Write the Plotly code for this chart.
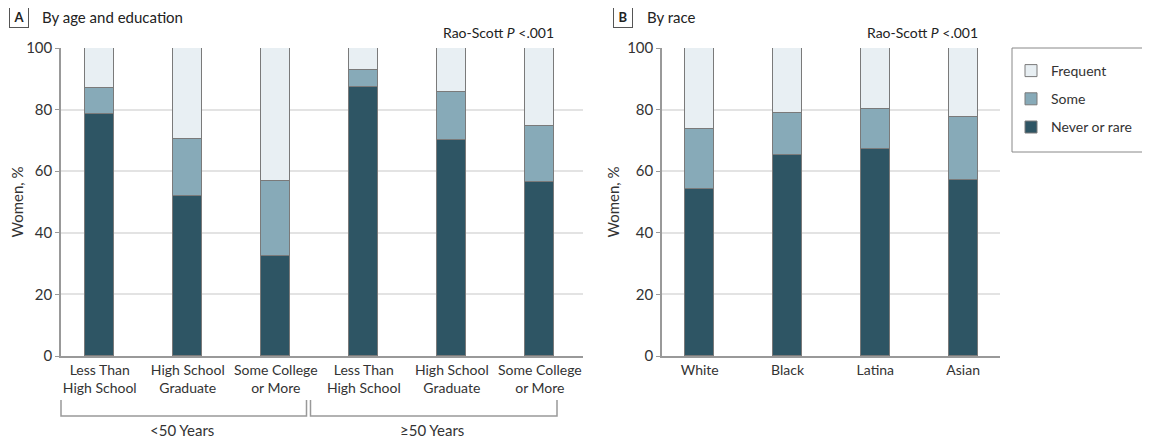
import plotly.graph_objects as go

# ---- data ----
education_labels = ["Less Than<br>High School", "High School<br>Graduate", "Some College<br>or More",
                    "Less Than<br>High School", "High School<br>Graduate", "Some College<br>or More"]
age_groups = ["<50 Years", "≥50 Years"]
never_A = [78.6, 51.9, 32.4, 87.3, 70.1, 56.4]
some_A = [8.4, 18.7, 24.5, 5.5, 15.5, 18.3]
frequent_A = [13.0, 29.4, 43.1, 7.2, 14.4, 25.3]

race_labels = ["White", "Black", "Latina", "Asian"]
never_B = [54.3, 65.3, 67.2, 57.2]
some_B = [19.5, 13.6, 13.0, 20.4]
frequent_B = [26.2, 21.1, 19.8, 22.4]

series_names = ["Never or rare", "Some", "Frequent"]
legend_ranks = [3, 2, 1]
colors = ["#2e5564", "#87aab8", "#e8eff3"]

# page has an 8px body margin, so the figure is offset by 8px
OFF = 8
W, H = 1150 - OFF, 443 - OFF
FONT = "Lato"
TXT = "#333333"

fig = go.Figure()
xa = list(range(len(education_labels)))
xb = list(range(len(race_labels)))
for name, rank, vals, col in zip(series_names, legend_ranks, [never_A, some_A, frequent_A], colors):
    fig.add_trace(go.Bar(x=xa, y=vals, name=name, legendgroup=name, legendrank=rank,
                         marker=dict(color=col, line=dict(color="#7a7a7a", width=1)),
                         width=0.33, xaxis="x", yaxis="y", showlegend=True))
for name, rank, vals, col in zip(series_names, legend_ranks, [never_B, some_B, frequent_B], colors):
    fig.add_trace(go.Bar(x=xb, y=vals, name=name, legendgroup=name, legendrank=rank,
                         marker=dict(color=col, line=dict(color="#7a7a7a", width=1)),
                         width=0.33, xaxis="x2", yaxis="y2", showlegend=False))

def px(x):
    return (x - OFF) / W

def py(y):
    return 1 - (y - OFF) / H

yax = dict(range=[0, 100], tickvals=[0, 20, 40, 60, 80, 100], showgrid=True, gridcolor="#e3e3e3", gridwidth=1.5,
           showline=True, linecolor="#999999", linewidth=1.5, ticks="outside", ticklen=4, tickcolor="#999999",
           tickfont=dict(family=FONT, size=15, color=TXT), zeroline=False, fixedrange=True,
           title=dict(text="Women, %", font=dict(family=FONT, size=15, color=TXT), standoff=4),
           domain=[py(356), py(48)])
xax_common = dict(showgrid=False, showline=True, linecolor="#999999", linewidth=1.5, ticks="", zeroline=False,
                  tickfont=dict(family=FONT, size=14, color=TXT), fixedrange=True)

fig.update_layout(
    width=W, height=H, barmode="stack", bargap=0,
    plot_bgcolor="white", paper_bgcolor="white",
    margin=dict(l=0, r=0, t=0, b=0, autoexpand=False),
    font=dict(family=FONT, size=14, color=TXT),
    xaxis=dict(domain=[px(61), px(583)], range=[-0.44, 5.49], tickvals=xa, ticktext=education_labels, **xax_common),
    xaxis2=dict(domain=[px(662), px(1000)], range=[-0.43, 3.42], tickvals=xb, ticktext=race_labels, **xax_common),
    yaxis=dict(anchor="x", **yax),
    yaxis2=dict(anchor="x2", **yax),
    legend=dict(x=px(1011), y=py(55), xanchor="left", yanchor="top", traceorder="grouped",
                tracegroupgap=7, borderwidth=0, bgcolor="rgba(0,0,0,0)",
                font=dict(family=FONT, size=14, color=TXT), itemwidth=30),
    showlegend=True,
)

annotations = []
# panel labels
for letter, title, xl, xt in [("A", "By age and education", 19, 40), ("B", "By race", 623, 645)]:
    annotations.append(dict(text="<b>%s</b>" % letter, x=px(xl), y=py(17), xref="paper", yref="paper",
                            showarrow=False, xanchor="center", yanchor="middle",
                            font=dict(family=FONT, size=13, color="#222222"),
                            bordercolor="#555555", borderwidth=1, borderpad=2, width=14, height=16))
    annotations.append(dict(text=title, x=px(xt), y=py(17), xref="paper", yref="paper", showarrow=False,
                            xanchor="left", yanchor="middle", font=dict(family=FONT, size=15, color="#222222")))
# Rao-Scott
for xr in [556, 980]:
    annotations.append(dict(text="Rao-Scott <i>P</i> &lt;.001", x=px(xr), y=py(32), xref="paper", yref="paper",
                            showarrow=False, xanchor="right", yanchor="middle",
                            font=dict(family=FONT, size=14, color="#222222")))
# age group labels
for label, xc in zip(age_groups, [182, 432]):
    annotations.append(dict(text=label, x=px(xc), y=py(430), xref="paper", yref="paper", showarrow=False,
                            xanchor="center", yanchor="middle", font=dict(family=FONT, size=15, color=TXT)))
fig.update_layout(annotations=annotations)

shapes = []
# brackets
for x0, x1 in [(61, 306.5), (310.5, 557)]:
    shapes.append(dict(type="path", xref="paper", yref="paper",
                       path="M %f %f L %f %f L %f %f L %f %f" % (px(x0), py(400), px(x0), py(416),
                                                                 px(x1), py(416), px(x1), py(400)),
                       line=dict(color="#999999", width=1.5)))
# legend frame
shapes.append(dict(type="rect", xref="paper", yref="paper", x0=px(1012), x1=px(1145), y0=py(152), y1=py(48),
                   line=dict(color="#888888", width=1)))
fig.update_layout(shapes=shapes)

fig.write_html("out.html")
